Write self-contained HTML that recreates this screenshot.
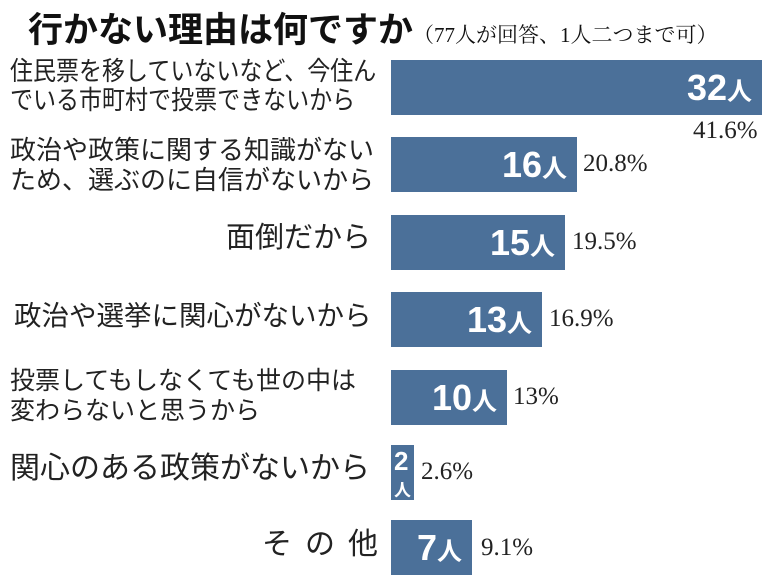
<!DOCTYPE html>
<html><head><meta charset="utf-8"><style>
body{margin:0;width:768px;height:586px;background:#fff;position:relative;overflow:hidden;font-family:"Liberation Sans","Noto Sans CJK JP",sans-serif;color:#1a1a1a}
.a{position:absolute;white-space:nowrap}
.bar{position:absolute;left:391px;height:55px;background:#4b7099}
.n{position:absolute;color:#fff;font-size:36px;font-weight:bold;line-height:55px;right:10px;top:0}
.n small{font-size:25px}
.p{position:absolute;font-family:"Liberation Serif","Noto Serif CJK SC",serif;font-size:25px;color:#222}
.l{position:absolute;font-size:23px;line-height:29px;color:#222;white-space:nowrap;transform-origin:0 0}
.s{font-size:29px}
</style></head><body>
<div class="a" style="left:28px;top:2px;font-size:35px;font-weight:bold;color:#111">行かない理由は何ですか<span style="font-size:21px;font-weight:normal;font-family:'Liberation Serif','Noto Serif CJK SC',serif">（77人が回答、1人二つまで可）</span></div>

<div class="l" style="left:10px;top:57px;font-size:26px;line-height:29px;transform:scaleX(0.885)">住民票を移していないなど、今住ん<br>でいる市町村で投票できないから</div>
<div class="bar" style="top:60px;width:371px"><div class="n">32<small>人</small></div></div>
<div class="p" style="left:693px;top:117px">41.6%</div>

<div class="l" style="left:10px;top:135px;font-size:26px;line-height:30px">政治や政策に関する知識がない<br>ため、選ぶのに自信がないから</div>
<div class="bar" style="top:137px;width:186px"><div class="n">16<small>人</small></div></div>
<div class="p" style="left:583px;top:150px">20.8%</div>

<div class="l s" style="left:226px;top:224px">面倒だから</div>
<div class="bar" style="top:215px;width:174px"><div class="n">15<small>人</small></div></div>
<div class="p" style="left:572px;top:228px">19.5%</div>

<div class="l s" style="left:14px;top:301px;font-size:27.5px">政治や選挙に関心がないから</div>
<div class="bar" style="top:292px;width:151px"><div class="n">13<small>人</small></div></div>
<div class="p" style="left:549px;top:305px">16.9%</div>

<div class="l" style="left:10px;top:366px;font-size:25px;line-height:30px">投票してもしなくても世の中は<br>変わらないと思うから</div>
<div class="bar" style="top:370px;width:116px"><div class="n">10<small>人</small></div></div>
<div class="p" style="left:513px;top:383px">13%</div>

<div class="l s" style="left:10px;top:454px;font-size:30px">関心のある政策がないから</div>
<div class="bar" style="top:445px;width:23px"><div style="position:absolute;left:3px;top:2px;color:#fff;font-weight:bold;font-size:26px;line-height:28px">2</div><div style="position:absolute;left:3px;top:31px;color:#fff;font-size:17px;font-weight:bold">人</div></div>
<div class="p" style="left:421px;top:458px">2.6%</div>

<div class="l s" style="left:262px;top:530px;font-size:30px;letter-spacing:13px">その他</div>
<div class="bar" style="top:520px;width:81px"><div class="n">7<small>人</small></div></div>
<div class="p" style="left:481px;top:534px">9.1%</div>
</body></html>
